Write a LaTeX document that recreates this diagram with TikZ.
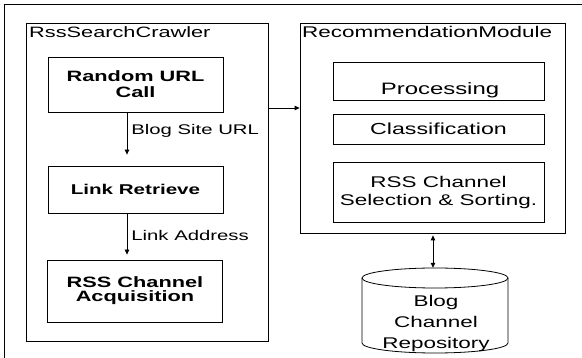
\documentclass[tikz,border=0pt]{standalone}
\usepackage{fontspec}
\setmainfont{Liberation Sans}
\newfontfamily\wf[FakeStretch=1.45]{Liberation Sans}
\usetikzlibrary{arrows.meta,calc}
\tikzset{
  frame/.style={draw, line width=0.8pt, inner sep=0pt},
  boxL/.style={frame, minimum width=175pt, align=center, font=\wf\bfseries\fontsize{15}{14}\selectfont},
  boxR/.style={frame, minimum width=211pt, align=center, font=\wf\fontsize{16}{18}\selectfont},
  ttl/.style={anchor=west, inner sep=0pt, font=\wf\fontsize{15}{16}\selectfont},
  lbl/.style={anchor=west, inner sep=0pt, font=\wf\fontsize{14}{16}\selectfont},
  arr/.style={line width=0.8pt, -{Triangle[length=5pt,width=4.5pt]}},
  darr/.style={line width=0.8pt, {Triangle[length=5pt,width=4.5pt]}-{Triangle[length=5pt,width=4.5pt]}},
}
\begin{document}
\begin{tikzpicture}[x=1pt,y=-1pt]
\useasboundingbox (0,0) rectangle (582,358);
% outer frame (partly off the picture)
\draw[line width=0.8pt] (4.5,358) -- (4.5,4) -- (582,4);
% RssSearchCrawler
\node[frame, minimum width=242pt, minimum height=318pt] (crawl) at (147,182) {};
\node[ttl] (crawlt) at (29,32) {RssSearchCrawler};
\node[boxL, minimum height=55pt] (rand) at (135.5,84.5) {Random URL\\[2pt]Call};
\node[boxL, minimum height=47pt, font=\wf\bfseries\fontsize{14.2}{16}\selectfont] (link) at (135.5,189.5) {Link Retrieve};
\node[boxL, minimum height=62pt] (acq) at (135,291) {RSS Channel\\Acquisition};
\coordinate (ax) at (127,0);
\draw[arr, shorten >=11pt] (rand.south -| ax) -- (link.north -| ax) node[lbl, pos=0.35, xshift=4pt] (l1) {Blog Site URL};
\draw[arr, shorten >=5pt] (link.south -| ax) -- (acq.north -| ax) node[lbl, pos=0.48, xshift=4pt] (l2) {Link Address};
% RecommendationModule
\node[frame, minimum width=265pt, minimum height=210pt] (rec) at (432.5,128) {};
\node[ttl, font=\wf\fontsize{15.5}{16}\selectfont] (rect) at (302,32) {RecommendationModule};
\node[frame, minimum width=211pt, minimum height=38pt] (proc) at (438.5,81) {};
\node[inner sep=0pt, font=\wf\fontsize{16.5}{18}\selectfont] (proct) at (440,90) {Processing};
\node[boxR, minimum height=30pt] (cls) at (438.5,129) {\raisebox{-2pt}{Classification}};
\node[boxR, minimum height=60pt, font=\wf\fontsize{15.5}{18}\selectfont] (sel) at (438.5,192) {RSS Channel\\Selection \& Sorting.};
% arrow between modules
\coordinate (m) at (284,108);
\draw[arr] (crawl.east |- m) -- (rec.west |- m);
% repository cylinder
\node[minimum width=146pt, minimum height=85pt, inner sep=0pt] (repo) at (435,310.5) {};
\draw[line width=0.8pt] (362,278) arc[start angle=180, end angle=-180, x radius=73pt, y radius=10pt];
\draw[line width=0.8pt] (362,278) -- (362,343) arc[start angle=180, end angle=360, x radius=73pt, y radius=10pt] -- (508,278);
\node[align=center, inner sep=0pt, font=\wf\fontsize{15.5}{21}\selectfont] (repot) at (436,323) {Blog\\Channel\\Repository};
\coordinate (dx) at (433,0);
\draw[darr, shorten <=2pt] (rec.south -| dx) -- (repo.north -| dx);
\end{tikzpicture}
\end{document}
